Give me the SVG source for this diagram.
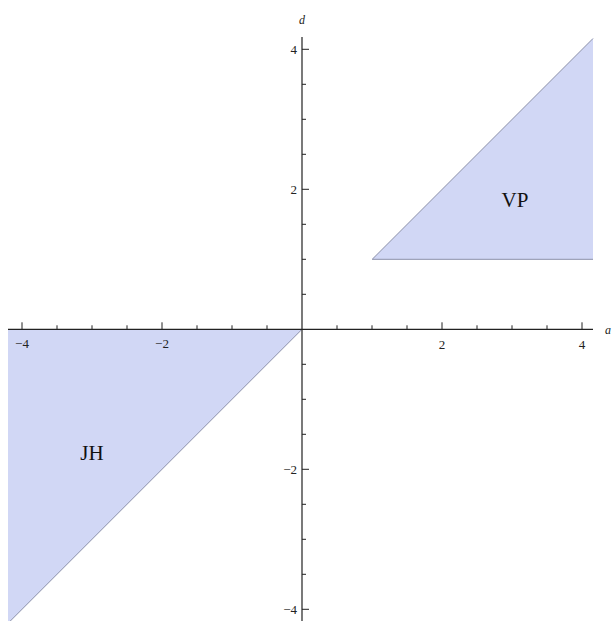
<svg xmlns="http://www.w3.org/2000/svg" width="613" height="621" viewBox="0 0 613 621">
<style>
.region{fill:#d1d7f5;stroke:none}
.edge{stroke:#8a8fa8;stroke-width:1;fill:none}
.axis{stroke:#222;stroke-width:1.2;fill:none}
.tick{stroke:#222;stroke-width:1}
.tl{font-family:"Liberation Serif",serif;font-size:13px;fill:#222}
.al{font-family:"Liberation Serif",serif;font-size:12px;font-style:italic;fill:#222}
.lab{font-family:"Liberation Serif",serif;font-size:21px;fill:#111;text-anchor:middle}
</style>
<rect width="613" height="621" fill="#fff"/>
<g id="VP">
<polygon class="region" points="372.2,259.3 593,259.3 593,38.5"/>
<path class="edge" d="M372.2,259.3 L593,38.5 M372.2,259.3 L593,259.3"/>
<text class="lab" x="515" y="207">VP</text>
</g>
<g id="JH">
<polygon class="region" points="8,329.3 302,329.3 8,623.3"/>
<path class="edge" d="M302,329.3 L8,623.3"/>
<text class="lab" x="92" y="460">JH</text>
</g>
<g id="connectors">
<path class="axis" d="M8,329.3 H593 M302,37 V621"/>
<g class="tick">
<path d="M22,329.3 v-7 M57,329.3 v-4 M92,329.3 v-4 M127,329.3 v-4 M162,329.3 v-7 M197,329.3 v-4 M232,329.3 v-4 M267,329.3 v-4 M337,329.3 v-4 M372,329.3 v-4 M407,329.3 v-4 M442,329.3 v-7 M477,329.3 v-4 M512,329.3 v-4 M547,329.3 v-4 M582,329.3 v-7"/>
<path d="M302,49.3 h7 M302,84.3 h4 M302,119.3 h4 M302,154.3 h4 M302,189.3 h7 M302,224.3 h4 M302,259.3 h4 M302,294.3 h4 M302,364.3 h4 M302,399.3 h4 M302,434.3 h4 M302,469.3 h7 M302,504.3 h4 M302,539.3 h4 M302,574.3 h4 M302,609.3 h7"/>
</g>
<text class="tl" x="22" y="348" text-anchor="middle">−4</text>
<text class="tl" x="162" y="348" text-anchor="middle">−2</text>
<text class="tl" x="442" y="348.5" text-anchor="middle">2</text>
<text class="tl" x="582" y="348.5" text-anchor="middle">4</text>
<text class="tl" x="297" y="54" text-anchor="end">4</text>
<text class="tl" x="297" y="194" text-anchor="end">2</text>
<text class="tl" x="297" y="474" text-anchor="end">−2</text>
<text class="tl" x="297" y="614" text-anchor="end">−4</text>
<text class="al" x="605" y="334">a</text>
<text class="al" x="299" y="24">d</text>
</g>
</svg>
